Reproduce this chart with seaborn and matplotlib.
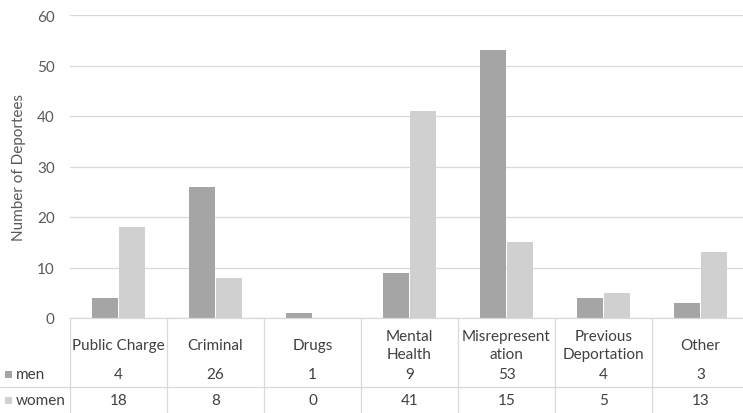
import matplotlib
matplotlib.use("Agg")
import matplotlib.pyplot as plt
import matplotlib.transforms as mtransforms
from matplotlib.patches import Rectangle
from matplotlib.lines import Line2D
import pandas as pd
import seaborn as sns

categories = ["Public Charge", "Criminal", "Drugs", "Mental Health",
              "Misrepresentation", "Previous Deportation", "Other"]
table_labels = ["Public Charge", "Criminal", "Drugs", "Mental\nHealth",
                "Misrepresent\nation", "Previous\nDeportation", "Other"]
men = [4, 26, 1, 9, 53, 4, 3]
women = [18, 8, 0, 41, 15, 5, 13]
series = ["men", "women"]
yticks = [0, 10, 20, 30, 40, 50, 60]

colors = {"men": "#a5a5a5", "women": "#d0d0d0"}
grid_c = "#d9d9d9"
text_c = "#404040"
FS = 11

df = pd.DataFrame({
    "category": categories * 2,
    "series": ["men"] * len(men) + ["women"] * len(women),
    "value": men + women,
})

sns.set_theme(style="white")
plt.rcParams["font.family"] = ["Lato", "DejaVu Sans"]

W, H = 743, 414
fig = plt.figure(figsize=(W / 100, H / 100), dpi=100)
# plot area runs slightly past the right edge of the canvas
x0, x1, ytop, ybot = 70, 749, 16, 319
ax = fig.add_axes([x0 / W, 1 - ybot / H, (x1 - x0) / W, (ybot - ytop) / H])

sns.barplot(data=df, x="category", y="value", hue="series", order=categories,
            hue_order=series, palette=colors, width=0.56, gap=0.06,
            saturation=1, ax=ax, legend=False, linewidth=0)

ax.set_ylim(0, 60)
ax.set_xlim(-0.5, len(categories) - 0.5)
ax.set_yticks(yticks)
ax.set_yticklabels([str(t) for t in yticks], color="#595959", fontsize=FS)
ax.tick_params(axis="y", length=0, pad=11)
ax.set_xticks([])
ax.set_xlabel("")
ax.set_ylabel("Number of Deportees", color="#595959", fontsize=FS, labelpad=8)
ax.yaxis.grid(True, color=grid_c, linewidth=0.9)
ax.set_axisbelow(True)
for s in ["top", "right", "left"]:
    ax.spines[s].set_visible(False)
ax.spines["bottom"].set_color(grid_c)
ax.spines["bottom"].set_linewidth(0.9)

# data table beneath the axis: x in data units, y in figure pixels from top
def ypix(y):
    return 1 - y / H

tr = mtransforms.blended_transform_factory(ax.transData, fig.transFigure)
ftr = fig.transFigure

# vertical separators between categories
for i in range(len(categories) + 1):
    xb = i - 0.5
    fig.add_artist(Line2D([xb, xb], [ypix(319), ypix(414)], transform=tr,
                          color=grid_c, linewidth=0.9, clip_on=False))
# horizontal separator between the two data rows
fig.add_artist(Line2D([0, x1 / W], [ypix(388), ypix(388)], transform=ftr,
                      color=grid_c, linewidth=0.9))

for i, lab in enumerate(table_labels):
    fig.text(i, ypix(346), lab, transform=tr, ha="center", va="center",
             fontsize=FS, color=text_c, linespacing=1.4)
    fig.text(i, ypix(375), str(men[i]), transform=tr, ha="center",
             va="center", fontsize=FS, color=text_c)
    fig.text(i, ypix(401), str(women[i]), transform=tr, ha="center",
             va="center", fontsize=FS, color=text_c)

# row headers with legend keys
for name, yy in zip(series, [375, 401]):
    fig.add_artist(Rectangle((5 / W, ypix(yy + 3.5)), 7 / W, 7 / H,
                             transform=ftr, color=colors[name], linewidth=0))
    fig.text(16 / W, ypix(yy), name, ha="left", va="center", fontsize=FS,
             color=text_c)

fig.savefig("out.png", dpi=100)
